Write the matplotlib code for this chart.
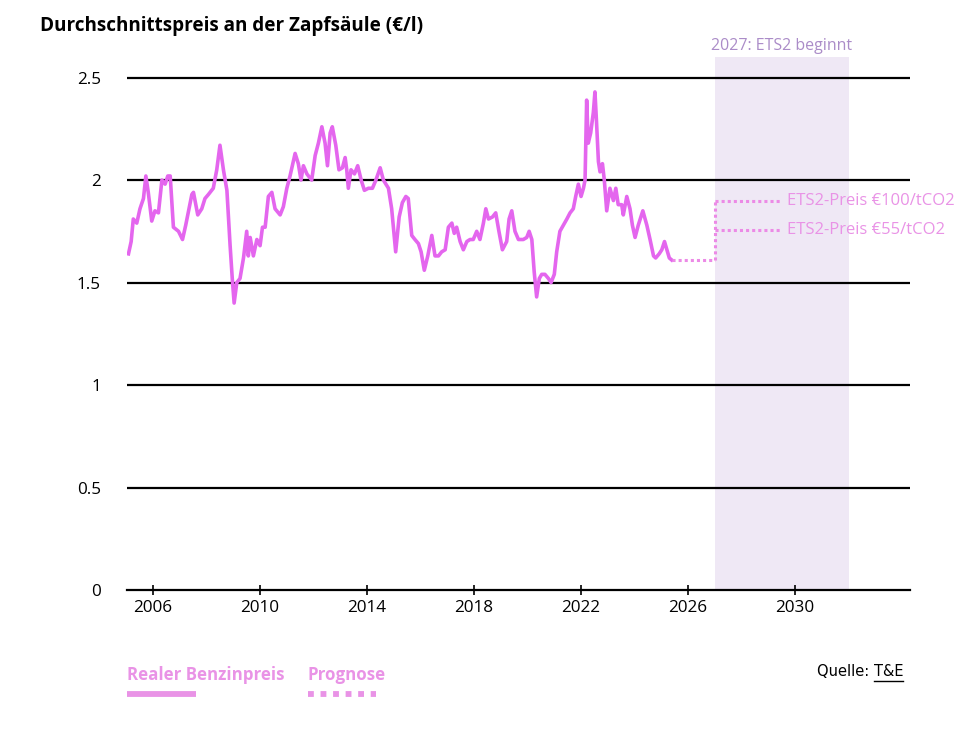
import matplotlib
matplotlib.use('Agg')
import matplotlib.pyplot as plt
from matplotlib.lines import Line2D

years = [2005.08, 2005.18, 2005.26, 2005.39, 2005.51, 2005.64, 2005.73, 2005.82, 2005.95,
         2006.07, 2006.20, 2006.33, 2006.45, 2006.55, 2006.64, 2006.76, 2006.95, 2007.10,
         2007.22, 2007.45, 2007.51, 2007.67, 2007.82, 2007.94, 2008.07, 2008.25, 2008.38,
         2008.50, 2008.63, 2008.76, 2008.88, 2008.96, 2009.03, 2009.13, 2009.25, 2009.38,
         2009.50, 2009.56, 2009.63, 2009.75, 2009.88, 2010.00, 2010.09, 2010.19, 2010.31,
         2010.44, 2010.56, 2010.75, 2010.87, 2011.00, 2011.12, 2011.31, 2011.43, 2011.53,
         2011.62, 2011.75, 2011.93, 2012.06, 2012.18, 2012.31, 2012.43, 2012.52, 2012.62,
         2012.70, 2012.83, 2012.95, 2013.08, 2013.18, 2013.24, 2013.30, 2013.40, 2013.53,
         2013.65, 2013.78, 2013.90, 2014.05, 2014.20, 2014.33, 2014.49, 2014.61, 2014.80,
         2014.92, 2015.07, 2015.20, 2015.32, 2015.45, 2015.54, 2015.67, 2015.79, 2015.92,
         2016.02, 2016.14, 2016.27, 2016.42, 2016.54, 2016.67, 2016.79, 2016.92, 2017.04,
         2017.17, 2017.26, 2017.35, 2017.48, 2017.60, 2017.73, 2017.85, 2017.97, 2018.10,
         2018.22, 2018.35, 2018.44, 2018.54, 2018.69, 2018.81, 2018.93, 2019.06, 2019.22,
         2019.31, 2019.41, 2019.53, 2019.66, 2019.84, 2019.97, 2020.06, 2020.16, 2020.25,
         2020.34, 2020.44, 2020.53, 2020.65, 2020.78, 2020.88, 2021.00, 2021.09, 2021.21,
         2021.34, 2021.47, 2021.59, 2021.71, 2021.80, 2021.90, 2022.00, 2022.09, 2022.15,
         2022.21, 2022.27, 2022.36, 2022.46, 2022.52, 2022.58, 2022.65, 2022.71, 2022.80,
         2022.87, 2022.96, 2023.08, 2023.21, 2023.30, 2023.39, 2023.52, 2023.58, 2023.71,
         2023.83, 2023.92, 2024.02, 2024.14, 2024.31, 2024.46, 2024.58, 2024.71, 2024.79,
         2024.92, 2025.02, 2025.12, 2025.21, 2025.30, 2025.39]
prices = [1.64, 1.70, 1.81, 1.79, 1.86, 1.91, 2.02, 1.94, 1.80,
          1.85, 1.84, 2.00, 1.98, 2.02, 2.02, 1.77, 1.75, 1.71,
          1.78, 1.93, 1.94, 1.83, 1.86, 1.91, 1.93, 1.96, 2.05,
          2.17, 2.05, 1.95, 1.68, 1.52, 1.40, 1.50, 1.52, 1.62,
          1.75, 1.63, 1.72, 1.63, 1.71, 1.68, 1.77, 1.77, 1.92,
          1.94, 1.86, 1.83, 1.87, 1.96, 2.02, 2.13, 2.08, 2.00,
          2.07, 2.03, 2.00, 2.12, 2.18, 2.26, 2.18, 2.07, 2.23,
          2.26, 2.17, 2.05, 2.06, 2.11, 2.05, 1.96, 2.05, 2.03,
          2.07, 2.00, 1.95, 1.96, 1.96, 2.00, 2.06, 2.00, 1.96,
          1.86, 1.65, 1.82, 1.89, 1.92, 1.91, 1.73, 1.71, 1.69,
          1.65, 1.56, 1.63, 1.73, 1.63, 1.63, 1.65, 1.66, 1.77,
          1.79, 1.74, 1.77, 1.70, 1.66, 1.70, 1.71, 1.71, 1.75,
          1.71, 1.79, 1.86, 1.81, 1.82, 1.84, 1.75, 1.66, 1.70,
          1.81, 1.85, 1.75, 1.71, 1.71, 1.72, 1.75, 1.71, 1.55,
          1.43, 1.52, 1.54, 1.54, 1.52, 1.50, 1.54, 1.65, 1.75,
          1.78, 1.81, 1.84, 1.86, 1.92, 1.98, 1.92, 1.96, 2.00,
          2.39, 2.18, 2.23, 2.33, 2.43, 2.28, 2.09, 2.04, 2.08,
          2.00, 1.85, 1.96, 1.90, 1.96, 1.88, 1.88, 1.83, 1.92,
          1.86, 1.78, 1.72, 1.78, 1.85, 1.78, 1.71, 1.63, 1.62,
          1.64, 1.66, 1.70, 1.66, 1.62, 1.61]

# Forecast
base_years = [2025.39, 2027.0]
base_price = [1.61, 1.61]
ets2_start = 2027.0
ets2_end_label = 2029.45
forecast_labels = ['ETS2-Preis €100/tCO2', 'ETS2-Preis €55/tCO2']
forecast_prices = [1.896, 1.754]

shade_span = (2027, 2032)
xticks = [2006, 2010, 2014, 2018, 2022, 2026, 2030]
yticks = [0, 0.5, 1, 1.5, 2, 2.5]
ytick_labels = ['0', '0.5', '1', '1.5', '2', '2.5']

LINE = '#E466EE'
DOTS = '#EC8AE6'
LABEL = '#E993E6'
SHADE = '#EFE8F5'
NOTE = '#AB8CC8'
round_font = ['Open Sans', 'DejaVu Sans']
narrow = ['Liberation Sans Narrow', 'DejaVu Sans']

fig = plt.figure(figsize=(9.78, 7.32), dpi=100)
ax = fig.add_axes([0.130, 0.194, 0.8005, 0.728])

ax.axvspan(*shade_span, color=SHADE, lw=0, zorder=0)
for v in yticks[1:]:
    ax.axhline(v, color='black', lw=1.6, zorder=1)

ax.plot(years, prices, color=LINE, lw=2.6, solid_joinstyle='round', zorder=3)

dot = (0, (1.0, 1.0))
ax.plot(base_years, base_price, color=DOTS, lw=2.2, linestyle=dot, zorder=3)
ax.plot([ets2_start, ets2_start], [base_price[-1], max(forecast_prices)],
        color=DOTS, lw=2.2, linestyle=dot, zorder=3)
for lab, p in zip(forecast_labels, forecast_prices):
    ax.plot([ets2_start, ets2_end_label], [p, p], color=DOTS, lw=2.2, linestyle=dot, zorder=3)
    ax.text(ets2_end_label + 0.25, p, lab, color=LABEL, fontsize=12,
            family=round_font, va='center', ha='left', zorder=4)

ax.text(sum(shade_span) / 2, 2.615, '2027: ETS2 beginnt', color=NOTE, fontsize=11.5,
        family=round_font, ha='center', va='bottom')

ax.set_xlim(2005.03, 2034.3)
ax.set_ylim(0, 2.6)
ax.set_xticks(xticks)
ax.set_xticklabels([str(t) for t in xticks], family=round_font, fontsize=12.3)
ax.set_yticks(yticks)
ax.set_yticklabels(ytick_labels, family=round_font, fontsize=12.3)
ax.tick_params(axis='x', direction='inout', length=7, width=1.2, pad=4)
ax.tick_params(axis='y', length=0, pad=19)
for side in ['top', 'right', 'left']:
    ax.spines[side].set_visible(False)
ax.spines['bottom'].set_linewidth(1.6)
ax.spines['bottom'].set_zorder(5)

fig.text(40 / 978, 1 - 26 / 732, 'Durchschnittspreis an der Zapfsäule (€/l)',
         fontsize=13.6, fontweight='bold', family=round_font, va='center', ha='left')

# legend
fig.text(127 / 978, 1 - 675 / 732, 'Realer Benzinpreis', color=LABEL, fontsize=12.2,
         fontweight='bold', family=round_font, va='center')
fig.add_artist(Line2D([127 / 978, 196 / 978], [1 - 694 / 732] * 2, color=LABEL,
                      lw=4.2, solid_capstyle='butt', transform=fig.transFigure))
fig.text(308 / 978, 1 - 675 / 732, 'Prognose', color=LABEL, fontsize=12.2,
         fontweight='bold', family=round_font, va='center')
fig.add_artist(Line2D([308 / 978, 376 / 978], [1 - 694 / 732] * 2, color=LABEL,
                      lw=4.2, linestyle=(0, (1, 1.15)), dash_capstyle='butt',
                      transform=fig.transFigure))

t1 = fig.text(817 / 978, 1 - 672 / 732, 'Quelle: ', fontsize=10.5, family=narrow, va='center')
fig.canvas.draw()
bb = t1.get_window_extent()
t2 = fig.text(bb.x1 / 978, 1 - 672 / 732, 'T&E', fontsize=10.5, family=narrow, va='center')
fig.canvas.draw()
bb2 = t2.get_window_extent()
fig.add_artist(Line2D([bb2.x0 / 978, bb2.x1 / 978], [(bb2.y0 - 1) / 732] * 2,
                      color='black', lw=1, transform=fig.transFigure))

fig.savefig('out.png', dpi=100)
